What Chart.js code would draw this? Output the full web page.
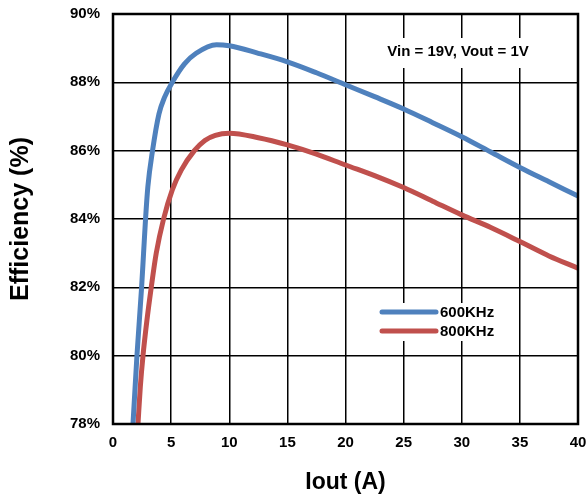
<!DOCTYPE html>
<html>
<head>
<meta charset="utf-8">
<script src="https://cdn.jsdelivr.net/npm/chart.js@4/dist/chart.umd.min.js"></script>
<style>
  html, body { margin: 0; padding: 0; background: #fff; }
  #wrap { width: 588px; height: 497px; position: relative; }
</style>
</head>
<body>
<div id="wrap"><canvas id="chart"></canvas></div>
<script>
// values
const seriesLabels = ['600KHz', '800KHz'];
const blueIout = [1.72, 2.06, 2.46, 2.63, 2.8, 3.0, 3.4, 3.95, 4.43, 5.1, 6.15, 7.15, 8.9, 10, 12.5, 15, 17.5, 20, 22.5, 25, 27.5, 30, 32.5, 35, 37.5, 40];
const blueEff  = [78, 80, 82, 83, 84, 84.95, 86, 87.07, 87.56, 88, 88.54, 88.85, 89.1, 89.07, 88.85, 88.6, 88.28, 87.93, 87.58, 87.22, 86.82, 86.41, 85.96, 85.51, 85.09, 84.67];
const redIout  = [2.15, 2.35, 2.58, 2.92, 3.29, 3.72, 4.35, 5.1, 5.87, 7, 7.9, 8.8, 10, 12.5, 15, 17.5, 20, 22.5, 25, 27.5, 30, 32.5, 35, 37.5, 40];
const redEff   = [78, 79.09, 80, 81.04, 82, 83, 84, 84.85, 85.43, 86.0, 86.3, 86.45, 86.51, 86.38, 86.17, 85.9, 85.58, 85.27, 84.92, 84.52, 84.12, 83.75, 83.34, 82.92, 82.56];
const noteText = 'Vin = 19V, Vout = 1V';

const FONT = "'Liberation Sans', Arial, sans-serif";
const colors = ['#4F81BD', '#C0504D'];

const toPoints = (xs, ys) => xs.map((x, i) => ({ x: x, y: ys[i] }));

// white boxes, note text, legend and heavy frame round the plot
const decor = {
    id: 'decor',
    beforeDatasetsDraw(chart) {
        const ctx = chart.ctx;
        ctx.save();
        ctx.fillStyle = '#fff';
        ctx.fillRect(376, 38, 164, 30);   // note box
        ctx.fillRect(376, 303, 124, 38);  // legend box
        ctx.restore();
    },
    afterDatasetsDraw(chart) {
        const ctx = chart.ctx;
        const a = chart.chartArea;
        ctx.save();
        ctx.font = 'bold 15px ' + FONT;
        ctx.fillStyle = '#000';
        ctx.textAlign = 'center';
        ctx.textBaseline = 'middle';
        ctx.fillText(noteText, 458, 52);

        // legend
        ctx.textAlign = 'left';
        chart.data.datasets.forEach((ds, i) => {
            const y = 312 + i * 19;
            ctx.strokeStyle = ds.borderColor;
            ctx.lineWidth = 5;
            ctx.lineCap = 'round';
            ctx.beginPath();
            ctx.moveTo(382, y);
            ctx.lineTo(436, y);
            ctx.stroke();
            ctx.fillText(ds.label, 440, y + 1);
        });

        ctx.strokeStyle = '#000';
        ctx.lineWidth = 2.5;
        ctx.lineCap = 'butt';
        ctx.strokeRect(a.left, a.top, a.right - a.left, a.bottom - a.top);
        ctx.restore();
    }
};

const config = {
    type: 'line',
    data: {
        datasets: [
            {
                label: seriesLabels[0],
                data: toPoints(blueIout, blueEff),
                borderColor: colors[0],
                borderWidth: 5,
                pointRadius: 0,
                fill: false,
                cubicInterpolationMode: 'monotone'
            },
            {
                label: seriesLabels[1],
                data: toPoints(redIout, redEff),
                borderColor: colors[1],
                borderWidth: 5,
                pointRadius: 0,
                fill: false,
                cubicInterpolationMode: 'monotone'
            }
        ]
    },
    options: {
        responsive: true,
        maintainAspectRatio: false,
        animation: false,
        layout: { padding: { left: 0, right: 10, top: 14, bottom: 0 } },
        plugins: {
            legend: { display: false },
            title: { display: false },
            tooltip: { enabled: false }
        },
        scales: {
            x: {
                type: 'linear',
                min: 0,
                max: 40,
                afterFit(scale) {
                    scale.height = 73;
                    scale.paddingLeft = 0;
                    scale.paddingRight = 0;
                },
                ticks: {
                    stepSize: 5,
                    padding: 10,
                    color: '#000',
                    font: { family: FONT, size: 15, weight: 'bold' }
                },
                grid: { color: '#000', lineWidth: 1.5, drawTicks: false },
                border: { display: false },
                title: {
                    display: true,
                    text: 'Iout (A)',
                    color: '#000',
                    padding: { top: 0, bottom: 1 },
                    font: { family: FONT, size: 23, weight: 'bold' }
                }
            },
            y: {
                type: 'linear',
                min: 78,
                max: 90,
                afterFit(scale) {
                    scale.width = 113;
                    scale.paddingTop = 0;
                    scale.paddingBottom = 0;
                },
                ticks: {
                    stepSize: 2,
                    padding: 13,
                    color: '#000',
                    font: { family: FONT, size: 15, weight: 'bold' },
                    callback: (v) => v + '%'
                },
                grid: { color: '#000', lineWidth: 1.5, drawTicks: false },
                border: { display: false },
                title: {
                    display: true,
                    text: 'Efficiency (%)',
                    color: '#000',
                    padding: { top: 6, bottom: 0 },
                    font: { family: FONT, size: 25, weight: 'bold' }
                }
            }
        }
    },
    plugins: [decor]
};

const myChart = new Chart(document.querySelector('#chart').getContext('2d'), config);
</script>
</body>
</html>
